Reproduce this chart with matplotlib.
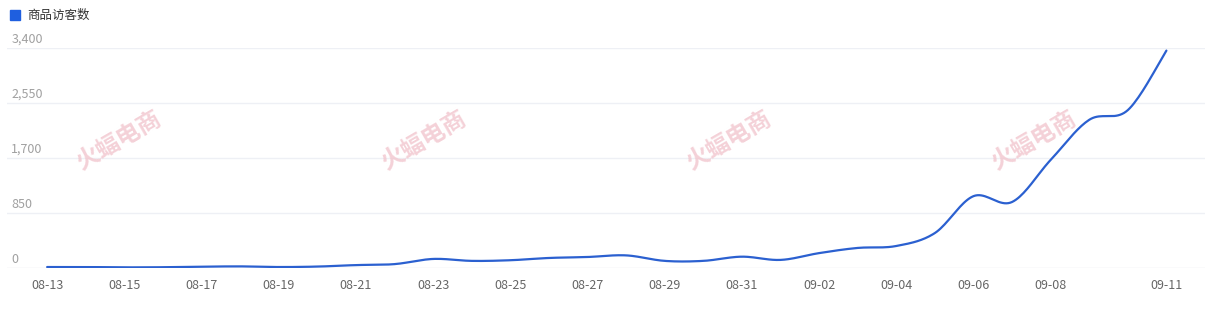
import numpy as np
import matplotlib.pyplot as plt

plt.rcParams['font.family'] = ['Noto Sans CJK SC', 'DejaVu Sans']

dates = ["08-13", "08-14", "08-15", "08-16", "08-17", "08-18", "08-19", "08-20",
         "08-21", "08-22", "08-23", "08-24", "08-25", "08-26", "08-27", "08-28",
         "08-29", "08-30", "08-31", "09-01", "09-02", "09-03", "09-04", "09-05",
         "09-06", "09-07", "09-08", "09-09", "09-10", "09-11"]
visitors = [15, 15, 10, 12, 20, 25, 15, 22, 45, 60, 140, 110, 120, 155, 170, 195,
            110, 110, 175, 125, 230, 310, 340, 540, 1110, 1020, 1670, 2290, 2440, 3360]
y_ticks = [0, 850, 1700, 2550, 3400]
shown_labels = ["08-13", "08-15", "08-17", "08-19", "08-21", "08-23", "08-25", "08-27",
                "08-29", "08-31", "09-02", "09-04", "09-06", "09-08", "09-11"]

line_color = "#2b60d0"


def smooth(x, y, n=20):
    # catmull-rom style smoothing, similar to echarts smooth lines
    x = np.asarray(x, float)
    y = np.asarray(y, float)
    xs, ys = [], []
    for i in range(len(x) - 1):
        p0 = (x[i - 1], y[i - 1]) if i > 0 else (x[i], y[i])
        p1 = (x[i], y[i])
        p2 = (x[i + 1], y[i + 1])
        p3 = (x[i + 2], y[i + 2]) if i + 2 < len(x) else (x[i + 1], y[i + 1])
        c1 = (p1[0] + (p2[0] - p0[0]) / 6, p1[1] + (p2[1] - p0[1]) / 6)
        c2 = (p2[0] - (p3[0] - p1[0]) / 6, p2[1] - (p3[1] - p1[1]) / 6)
        t = np.linspace(0, 1, n, endpoint=False)
        bx = (1 - t) ** 3 * p1[0] + 3 * (1 - t) ** 2 * t * c1[0] + 3 * (1 - t) * t ** 2 * c2[0] + t ** 3 * p2[0]
        by = (1 - t) ** 3 * p1[1] + 3 * (1 - t) ** 2 * t * c1[1] + 3 * (1 - t) * t ** 2 * c2[1] + t ** 3 * p2[1]
        xs.extend(bx)
        ys.extend(by)
    xs.append(x[-1])
    ys.append(y[-1])
    return np.array(xs), np.array(ys)


fig = plt.figure(figsize=(12.07, 3.16), dpi=100)
ax = fig.add_axes([7 / 1207, 48 / 316, 1198 / 1207, 220 / 316])

idx = np.arange(len(dates))
sx, sy = smooth(idx, visitors)
ax.plot(sx, sy, color=line_color, lw=1.6, solid_capstyle="round", zorder=3)

ax.set_xlim(-1.04, 30.0)
ax.set_ylim(0, 3400)

for v in y_ticks:
    ax.axhline(v, color="#eef0f5" if v else "#e6e8ee", lw=1, zorder=1)
    ax.annotate(f"{v:,}", xy=(0, v), xycoords=("axes fraction", "data"),
                xytext=(3, 1.5), textcoords="offset points",
                ha="left", va="bottom", fontsize=9, color="#a0a0a0")

ax.set_yticks([])
tick_pos = [dates.index(d) for d in shown_labels]
ax.set_xticks(tick_pos)
ax.set_xticklabels(shown_labels, fontsize=9, color="#666666")
ax.tick_params(axis="x", length=0, pad=8)
for s in ax.spines.values():
    s.set_visible(False)

# watermark text
for wx in [118, 423, 728, 1033]:
    fig.text(wx / 1207, 1 - 140 / 316, "火蝠电商", fontsize=17, color="#f2c6ce",
             rotation=30, ha="center", va="center", alpha=0.8, fontweight="bold", zorder=0)

# legend
fig.patches.append(plt.Rectangle((10 / 1207, 1 - 20 / 316), 10 / 1207, 10 / 316,
                                 transform=fig.transFigure, color="#1f5fdf"))
fig.text(27 / 1207, 1 - 15 / 316, "商品访客数", fontsize=9, color="#333333",
         ha="left", va="center")

fig.savefig("out.png", dpi=100)
